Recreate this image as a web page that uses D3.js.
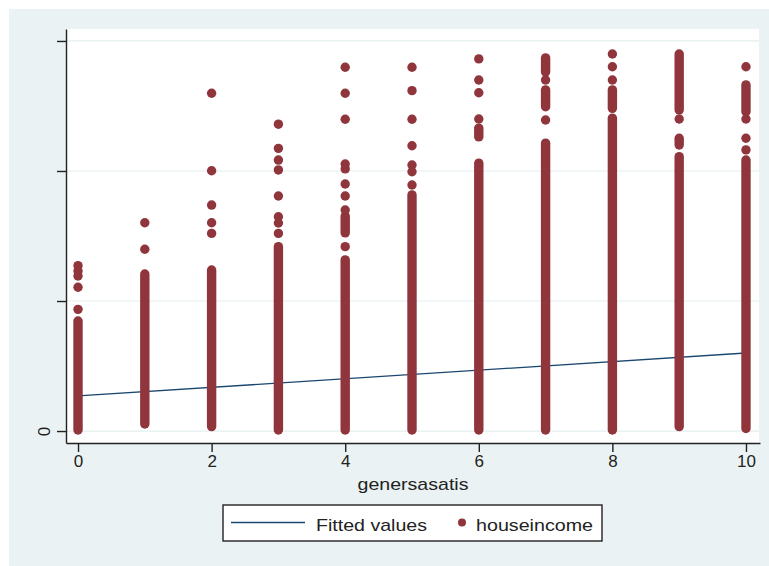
<!DOCTYPE html>
<html>
<head>
<meta charset="utf-8">
<script src="https://cdn.jsdelivr.net/npm/d3@7"></script>
<style>
  body { margin: 0; background: #fff; }
  text { font-family: "Liberation Sans", Arial, sans-serif; fill: #222; }
</style>
</head>
<body>
<div id="chart"></div>
<script>
// genersasatis categories (x)
var satis = [0, 1, 2, 3, 4, 5, 6, 7, 8, 9, 10];

// houseincome (thousands) - sparse points, per category
var loosePoints = [
  [63.6, 61.5, 59.6, 55.3, 46.8],
  [80.1, 69.9],
  [129.9, 100.1, 86.9, 80.1, 76.0],
  [118.0, 108.7, 104.2, 100.4, 90.4, 82.4, 80.0, 76.0],
  [139.9, 129.9, 119.9, 102.7, 100.8, 95.0, 90.4, 85.0, 70.9],
  [139.9, 130.9, 119.9, 109.7, 102.3, 99.7, 94.6],
  [143.1, 135.0, 130.1, 120.0],
  [135.0, 119.6],
  [145.0, 140.1, 135.0],
  [120.0],
  [140.1, 120.0, 112.6, 108.1]
];

// houseincome - stretches where the dots overlap into a solid column [low, high]
var denseRuns = [
  [[0.4, 42.3]],
  [[2.7, 60.4]],
  [[1.7, 61.9]],
  [[0.4, 70.9]],
  [[0.4, 65.8], [76.2, 82.7]],
  [[0.4, 90.8]],
  [[0.4, 103.0], [113.1, 116.5]],
  [[0.4, 110.7], [124.7, 131.2], [138.1, 143.5]],
  [[0.4, 120.3], [124.1, 131.2]],
  [[1.7, 105.5], [110.0, 112.6], [123.5, 145.0]],
  [[1.0, 104.2], [122.8, 133.1]]
];

// fitted values (linear fit)
var fitX = [0, 10];
var fitY = [13.5, 30.0];

var yTicks = [0, 50, 100, 150];
var xTicks = [0, 2, 4, 6, 8, 10];

var W = 769, H = 566;
var dotColor = "#90353b", lineColor = "#1a476f";
var r = 4.7;

var svg = d3.select("#chart").append("svg")
  .attr("width", W)
  .attr("height", H);

// graph region
svg.append("rect")
  .attr("x", 9).attr("y", 9)
  .attr("width", W - 9).attr("height", H - 9)
  .attr("fill", "#eaf2f3");

// plot region
var plot = {left: 66, right: 759, top: 29, bottom: 443};
svg.append("rect")
  .attr("x", plot.left).attr("y", plot.top)
  .attr("width", plot.right - plot.left)
  .attr("height", plot.bottom - plot.top)
  .attr("fill", "#fff");

var x = d3.scaleLinear()
  .domain([-0.18, 10.21])
  .range([plot.left, plot.right + 1]);

var y = d3.scaleLinear()
  .domain([-4.6, 154.6])
  .range([plot.bottom, plot.top]);

// gridlines
svg.append("g")
  .selectAll("line")
  .data(yTicks)
  .enter()
  .append("line")
    .attr("x1", plot.left)
    .attr("x2", plot.right)
    .attr("y1", function(d) { return y(d); })
    .attr("y2", function(d) { return y(d); })
    .attr("stroke", "#e4eef0")
    .attr("stroke-width", 1.2);

// fitted line
svg.append("line")
  .attr("x1", x(fitX[0])).attr("y1", y(fitY[0]))
  .attr("x2", x(fitX[1])).attr("y2", y(fitY[1]))
  .attr("stroke", lineColor)
  .attr("stroke-width", 1.3);

// scatter: solid runs drawn as round-capped strokes, loose points as circles
var dots = svg.append("g");
satis.forEach(function(s, i) {
  denseRuns[i].forEach(function(run) {
    dots.append("line")
      .attr("x1", x(s)).attr("x2", x(s))
      .attr("y1", y(run[0])).attr("y2", y(run[1]))
      .attr("stroke", dotColor)
      .attr("stroke-width", r * 2)
      .attr("stroke-linecap", "round");
  });
  dots.selectAll(null)
    .data(loosePoints[i])
    .enter()
    .append("circle")
      .attr("cx", x(s))
      .attr("cy", function(d) { return y(d); })
      .attr("r", r)
      .attr("fill", dotColor);
});

// axes
var xAxis = svg.append("g")
  .attr("transform", "translate(0," + plot.bottom + ")")
  .call(d3.axisBottom(x).tickValues(xTicks).tickSize(9).tickSizeOuter(0).tickPadding(3));

var yAxis = svg.append("g")
  .attr("transform", "translate(" + plot.left + ",0)")
  .call(d3.axisLeft(y).tickValues(yTicks).tickSize(9).tickSizeOuter(0)
    .tickFormat(function(d) { return d === 0 ? "0" : ""; }));

[xAxis, yAxis].forEach(function(a) {
  a.select(".domain").attr("stroke", "#222").attr("stroke-width", 1.4);
  a.selectAll(".tick line").attr("stroke", "#222").attr("stroke-width", 1.4);
  a.selectAll(".tick text")
    .attr("fill", "#222")
    .style("font-size", "17px")
    .style("font-family", "'Liberation Sans', Arial, sans-serif");
});

// rotated y labels
yAxis.selectAll(".tick text")
  .attr("x", 0).attr("dy", 0)
  .attr("transform", "translate(-16,0) rotate(-90)")
  .style("text-anchor", "middle");

// x axis title
svg.append("text")
  .attr("x", (plot.left + plot.right) / 2 + 0.5)
  .attr("y", 490)
  .attr("text-anchor", "middle")
  .attr("textLength", 111)
  .attr("lengthAdjust", "spacingAndGlyphs")
  .style("font-size", "17px")
  .text("genersasatis");

// legend
var legend = svg.append("g");
legend.append("rect")
  .attr("x", 223).attr("y", 505)
  .attr("width", 379).attr("height", 36)
  .attr("fill", "#fff")
  .attr("stroke", "#222")
  .attr("stroke-width", 1.4);
legend.append("line")
  .attr("x1", 231).attr("x2", 305)
  .attr("y1", 522.5).attr("y2", 522.5)
  .attr("stroke", lineColor)
  .attr("stroke-width", 1.4);
legend.append("text")
  .attr("x", 316).attr("y", 531)
  .attr("textLength", 111)
  .attr("lengthAdjust", "spacingAndGlyphs")
  .style("font-size", "17px")
  .text("Fitted values");
legend.append("circle")
  .attr("cx", 462).attr("cy", 522.5)
  .attr("r", 4)
  .attr("fill", dotColor);
legend.append("text")
  .attr("x", 476).attr("y", 531)
  .attr("textLength", 117)
  .attr("lengthAdjust", "spacingAndGlyphs")
  .style("font-size", "17px")
  .text("houseincome");
</script>
</body>
</html>
